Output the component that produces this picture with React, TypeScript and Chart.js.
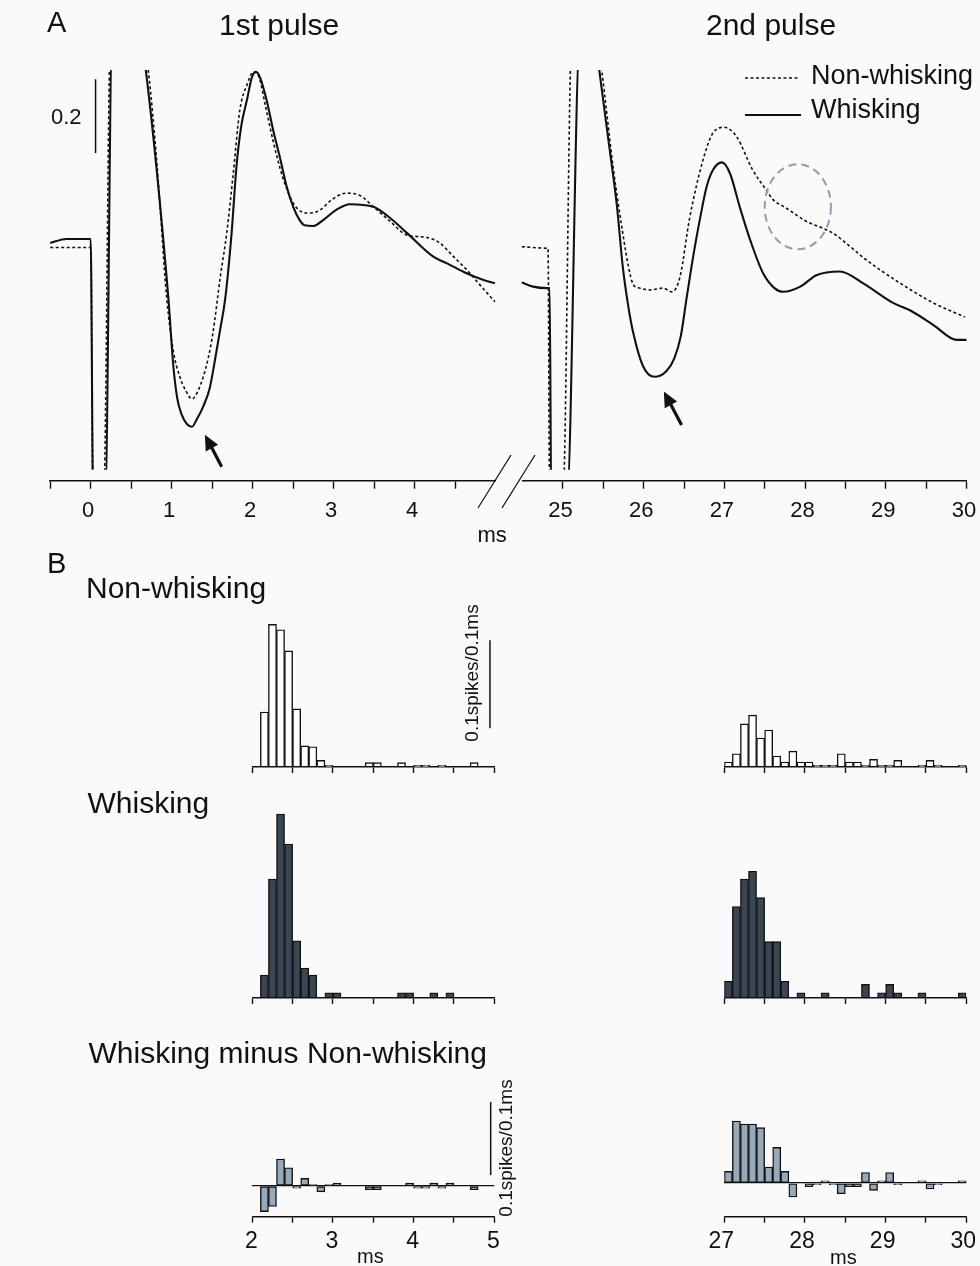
import React, { useEffect, useRef } from 'react';
import { Chart, registerables } from 'chart.js';

Chart.register(...registerables);

const FONT = '"Liberation Sans", Arial, Helvetica, sans-serif';
const INK = '#111111';
const BG = '#fafafa';

// ---------- Panel A: averaged traces (time in ms, amplitude in scale units) ----------
const pulse1WhiskT = [-0.5, -0.3, -0.1, 0.0, 0.03, 0.18, 0.265, 0.62, 0.68, 0.81, 0.96, 1.02, 1.07, 1.12, 1.185, 1.25, 1.31, 1.39, 1.47, 1.53, 1.6, 1.66, 1.74, 1.8, 1.86, 1.93, 1.99, 2.04, 2.09, 2.17, 2.25, 2.34, 2.42, 2.5, 2.58, 2.64, 2.75, 2.87, 3.04, 3.2, 3.49, 3.7, 3.9, 4.23, 4.4, 4.64, 4.85, 4.99];
const pulse1WhiskV = [-0.008, 0.003, 0.003, 0.003, -0.7, -0.7, 0.55, 0.55, 0.46, 0.2, -0.16, -0.34, -0.43, -0.47, -0.497, -0.505, -0.485, -0.45, -0.4, -0.33, -0.24, -0.16, 0.02, 0.2, 0.31, 0.38, 0.44, 0.455, 0.44, 0.38, 0.3, 0.22, 0.144, 0.09, 0.054, 0.04, 0.038, 0.054, 0.083, 0.097, 0.09, 0.059, 0.02, -0.045, -0.063, -0.09, -0.108, -0.117];

const pulse1NonWhiskT = [-0.5, -0.3, -0.1, 0.0, 0.03, 0.16, 0.245, 0.64, 0.71, 0.82, 0.94, 1.02, 1.1, 1.18, 1.25, 1.32, 1.39, 1.45, 1.51, 1.6, 1.68, 1.76, 1.84, 1.93, 2.01, 2.08, 2.16, 2.25, 2.37, 2.5, 2.59, 2.67, 2.75, 2.83, 2.98, 3.16, 3.33, 3.49, 3.7, 3.9, 4.15, 4.31, 4.48, 4.64, 4.82, 4.99];
const pulse1NonWhiskV = [-0.02, -0.02, -0.02, -0.02, -0.7, -0.7, 0.55, 0.55, 0.46, 0.2, -0.16, -0.3, -0.37, -0.41, -0.43, -0.41, -0.37, -0.32, -0.25, -0.1, 0.02, 0.18, 0.35, 0.42, 0.455, 0.44, 0.36, 0.27, 0.17, 0.1, 0.078, 0.073, 0.074, 0.081, 0.11, 0.127, 0.12, 0.09, 0.05, 0.014, 0.007, -0.008, -0.045, -0.08, -0.125, -0.167];

const pulse2WhiskT = [24.49, 24.63, 24.8, 24.835, 24.855, 25.05, 25.21, 25.4, 25.45, 25.58, 25.67, 25.74, 25.81, 25.87, 25.99, 26.13, 26.28, 26.38, 26.46, 26.53, 26.62, 26.7, 26.78, 26.86, 26.97, 27.07, 27.19, 27.32, 27.48, 27.62, 27.73, 27.94, 28.14, 28.43, 28.72, 29.09, 29.3, 29.59, 29.88, 30.0];
const pulse2WhiskV = [-0.115, -0.126, -0.13, -0.13, -0.7, -0.7, 0.55, 0.55, 0.46, 0.243, 0.09, -0.07, -0.18, -0.25, -0.34, -0.37, -0.355, -0.32, -0.26, -0.16, -0.036, 0.06, 0.144, 0.19, 0.21, 0.18, 0.09, 0.0, -0.09, -0.13, -0.14, -0.126, -0.095, -0.085, -0.117, -0.17, -0.19, -0.23, -0.27, -0.27];

const pulse2NonWhiskT = [24.49, 24.8, 24.815, 24.835, 25.0, 25.11, 25.42, 25.48, 25.62, 25.74, 25.81, 25.87, 25.95, 26.08, 26.24, 26.35, 26.45, 26.57, 26.74, 26.86, 27.0, 27.15, 27.35, 27.52, 27.6, 27.77, 28.02, 28.22, 28.35, 28.56, 28.76, 29.18, 29.59, 29.98];
const pulse2NonWhiskV = [-0.018, -0.022, -0.022, -0.7, -0.7, 0.55, 0.55, 0.46, 0.2, 0.02, -0.07, -0.12, -0.13, -0.135, -0.13, -0.14, -0.1, 0.06, 0.22, 0.29, 0.305, 0.28, 0.19, 0.135, 0.11, 0.086, 0.05, 0.032, 0.018, -0.018, -0.054, -0.117, -0.17, -0.208];

const pulse1TickLabels = [0, 1, 2, 3, 4];
const pulse2TickLabels = [25, 26, 27, 28, 29, 30];

// ---------- Panel B: PSTH bins (0.1 ms), spikes / 0.1 ms ----------
const binsFirst = [2.05, 2.15, 2.25, 2.35, 2.45, 2.55, 2.65, 2.75, 2.85, 2.95, 3.05, 3.15, 3.25, 3.35, 3.45, 3.55, 3.65, 3.75, 3.85, 3.95, 4.05, 4.15, 4.25, 4.35, 4.45, 4.55, 4.65, 4.75, 4.85, 4.95];
const binsSecond = [27.05, 27.15, 27.25, 27.35, 27.45, 27.55, 27.65, 27.75, 27.85, 27.95, 28.05, 28.15, 28.25, 28.35, 28.45, 28.55, 28.65, 28.75, 28.85, 28.95, 29.05, 29.15, 29.25, 29.35, 29.45, 29.55, 29.65, 29.75, 29.85, 29.95];

const nonWhiskFirst = [0, 0.0625, 0.162, 0.156, 0.132, 0.066, 0.024, 0.023, 0.0076, 0.002, 0, 0, 0, 0, 0.005, 0.005, 0, 0, 0.005, 0, 0.002, 0.002, 0, 0.002, 0, 0, 0, 0.005, 0, 0];
const nonWhiskSecond = [0.0057, 0.015, 0.049, 0.059, 0.033, 0.042, 0.0125, 0.0057, 0.018, 0.0057, 0.0057, 0.002, 0.002, 0.002, 0.015, 0.0057, 0.0057, 0.002, 0.0087, 0.002, 0.002, 0.0076, 0, 0, 0.002, 0.0076, 0.002, 0, 0, 0.002];
const whiskFirst = [0, 0.026, 0.135, 0.209, 0.175, 0.065, 0.034, 0.026, 0, 0.006, 0.006, 0, 0, 0, 0, 0, 0, 0, 0.006, 0.006, 0, 0, 0.006, 0, 0.006, 0, 0, 0, 0, 0];
const whiskSecond = [0.019, 0.104, 0.135, 0.144, 0.114, 0.064, 0.064, 0.019, 0, 0.006, 0, 0, 0.006, 0, 0, 0, 0, 0.0155, 0, 0.006, 0.0155, 0.006, 0, 0, 0.006, 0, 0, 0, 0, 0.006];
const diffFirst = [0, -0.035, -0.028, 0.037, 0.025, -0.003, 0.0105, 0.002, -0.008, 0.002, 0.004, 0, 0, 0, -0.005, -0.005, 0, 0, 0, 0.004, -0.003, -0.003, 0.004, -0.003, 0.004, 0, 0, -0.005, 0, 0];
const diffSecond = [0.016, 0.085, 0.081, 0.081, 0.076, 0.022, 0.049, 0.016, -0.019, 0, -0.005, -0.002, 0.003, -0.002, -0.0145, -0.005, -0.005, 0.0145, -0.01, 0.003, 0.0145, -0.002, 0, 0, 0.003, -0.008, -0.002, 0, 0, 0.003];

const histFirstTickLabels = [2, 3, 4, 5];
const histSecondTickLabels = [27, 28, 29, 30];

// ---------- helpers ----------
type Rect = { x: number; y: number; w: number; h: number };
type Area = { l: number; t: number; r: number; b: number };

const padFor = (c: Rect, a: Area, axisH: number) => ({
  left: a.l - c.x,
  top: a.t - c.y,
  right: c.x + c.w - a.r,
  bottom: c.y + c.h - a.b - axisH,
});

const near = (a: number, b: number) => Math.abs(a - b) < 1e-6;

function xAxis(min: number, max: number, labels: number[], o: any) {
  const hide: number[] = o.hide || [];
  return {
    type: 'linear',
    min,
    max,
    offset: false,
    afterFit: (s: any) => {
      s.height = o.axisH;
    },
    ticks: {
      stepSize: 0.5,
      autoSkip: false,
      maxRotation: 0,
      minRotation: 0,
      padding: o.pad,
      labelOffset: o.labelOffset,
      color: INK,
      font: { family: FONT, size: o.font },
      callback: (v: any) => {
        const n = Number(v);
        return labels.some((l) => near(l, n)) ? String(Math.round(n)) : '';
      },
    },
    grid: {
      display: true,
      drawOnChartArea: false,
      drawTicks: true,
      offset: false,
      tickLength: o.tickLen,
      tickWidth: 1.4,
      tickColor: (ctx: any) =>
        ctx.tick && hide.some((h) => near(h, ctx.tick.value)) ? 'rgba(0,0,0,0)' : INK,
    },
    border: { display: true, color: INK, width: 1.5 },
  };
}

function drawArrow(ctx: CanvasRenderingContext2D, x0: number, y0: number, x1: number, y1: number) {
  const ang = Math.atan2(y1 - y0, x1 - x0);
  const hl = 15;
  const hw = 7;
  const c = Math.cos(ang);
  const s = Math.sin(ang);
  const bx = x1 - hl * c;
  const by = y1 - hl * s;
  ctx.save();
  ctx.strokeStyle = INK;
  ctx.fillStyle = INK;
  ctx.lineWidth = 3.2;
  ctx.beginPath();
  ctx.moveTo(x0, y0);
  ctx.lineTo(bx + 2 * c, by + 2 * s);
  ctx.stroke();
  ctx.beginPath();
  ctx.moveTo(x1, y1);
  ctx.lineTo(bx + hw * s, by - hw * c);
  ctx.lineTo(bx - hw * s, by + hw * c);
  ctx.closePath();
  ctx.fill();
  ctx.restore();
}

function vBar(chart: any, xv: number, y0: number, y1: number) {
  const { ctx, scales } = chart;
  const px = scales.x.getPixelForValue(xv);
  ctx.save();
  ctx.strokeStyle = INK;
  ctx.lineWidth = 1.5;
  ctx.beginPath();
  ctx.moveTo(px, scales.y.getPixelForValue(y0));
  ctx.lineTo(px, scales.y.getPixelForValue(y1));
  ctx.stroke();
  ctx.restore();
}

const toPts = (t: number[], v: number[]) => t.map((x, i) => ({ x, y: v[i] }));

const TRACE_YMIN = -0.651;
const TRACE_YMAX = 0.46;

function traceConfig(rect: Rect, area: Area, xmin: number, xmax: number, labels: number[], hide: number[], dashed: any[], solid: any[], overlay: (c: any) => void) {
  const clip = { left: 2, top: 0, right: 2, bottom: -11 };
  return {
    type: 'line',
    data: {
      datasets: [
        {
          label: 'Non-whisking',
          data: dashed,
          borderColor: INK,
          borderWidth: 1.6,
          borderDash: [3, 2.5],
          pointRadius: 0,
          fill: false,
          cubicInterpolationMode: 'monotone',
          clip,
        },
        {
          label: 'Whisking',
          data: solid,
          borderColor: INK,
          borderWidth: 2.1,
          pointRadius: 0,
          fill: false,
          cubicInterpolationMode: 'monotone',
          clip,
        },
      ],
    },
    options: {
      animation: false,
      responsive: false,
      maintainAspectRatio: false,
      events: [],
      layout: { padding: padFor(rect, area, 50) },
      plugins: { legend: { display: false }, tooltip: { enabled: false }, title: { display: false } },
      scales: {
        x: xAxis(xmin, xmax, labels, { axisH: 50, tickLen: 8, pad: 9, font: 22, labelOffset: -2.5, hide }),
        y: { display: false, min: TRACE_YMIN, max: TRACE_YMAX },
      },
    },
    plugins: [{ id: 'overlay', afterDatasetsDraw: overlay }],
  };
}

function histConfig(rect: Rect, area: Area, xmin: number, xmax: number, labels: number[], yMin: number, yMax: number, centers: number[], values: number[], fill: string, o: any) {
  const yScale = o.zeroLine
    ? {
        display: true,
        min: yMin,
        max: yMax,
        afterFit: (s: any) => {
          s.width = 0;
        },
        ticks: { display: false, stepSize: 0.01 },
        border: { display: false },
        grid: {
          drawTicks: false,
          lineWidth: 1.3,
          color: (c: any) => (c.tick && Math.abs(c.tick.value) < 1e-9 ? INK : 'rgba(0,0,0,0)'),
        },
      }
    : { display: false, min: yMin, max: yMax };
  return {
    type: 'bar',
    data: {
      datasets: [
        {
          data: centers.map((c, i) => ({ x: c, y: values[i] === 0 ? null : values[i] })),
          backgroundColor: fill,
          borderColor: INK,
          borderWidth: 1.4,
          borderSkipped: false,
          barPercentage: 1,
          categoryPercentage: 1,
          grouped: false,
        },
      ],
    },
    options: {
      animation: false,
      responsive: false,
      maintainAspectRatio: false,
      events: [],
      layout: { padding: padFor(rect, area, o.axisH) },
      plugins: { legend: { display: false }, tooltip: { enabled: false } },
      scales: {
        x: xAxis(xmin, xmax, labels, { axisH: o.axisH, tickLen: 6, pad: 5, font: 23, labelOffset: o.labelOffset || 0 }),
        y: yScale,
      },
    },
    plugins: [
      {
        id: 'scalebar',
        afterDatasetsDraw: (chart: any) => {
          if (o.scaleBar) vBar(chart, o.scaleBar.x, o.scaleBar.y0, o.scaleBar.y1);
        },
      },
    ],
  };
}

function ChartCanvas({ rect, build }: { rect: Rect; build: () => any }) {
  const ref = useRef<HTMLCanvasElement>(null);
  useEffect(() => {
    const chart = new Chart(ref.current as HTMLCanvasElement, build());
    return () => chart.destroy();
  }, []);
  return (
    <canvas
      ref={ref}
      width={rect.w}
      height={rect.h}
      style={{ position: 'absolute', left: rect.x, top: rect.y, width: rect.w, height: rect.h }}
    />
  );
}

function Txt({ x, y, size, children, rotate }: any) {
  const style: any = {
    position: 'absolute',
    left: x,
    top: y,
    fontSize: size,
    lineHeight: 1,
    whiteSpace: 'nowrap',
    fontFamily: FONT,
    color: INK,
  };
  if (rotate) style.transform = 'translate(-50%, -50%) rotate(-90deg)';
  return <div style={style}>{children}</div>;
}

// ---------- layout ----------
const rectA1: Rect = { x: 20, y: 40, w: 500, h: 520 };
const areaA1: Area = { l: 50.2, t: 70, r: 495.7, b: 480.7 };
const rectA2: Rect = { x: 500, y: 40, w: 520, h: 520 };
const areaA2: Area = { l: 522.6, t: 70, r: 966.5, b: 480.7 };

const rectB1L: Rect = { x: 220, y: 590, w: 310, h: 200 };
const areaB1L: Area = { l: 252.3, t: 608.6, r: 494.3, b: 767 };
const rectB1R: Rect = { x: 690, y: 590, w: 330, h: 200 };
const areaB1R: Area = { l: 724.3, t: 608.6, r: 966.3, b: 767 };

const rectB2L: Rect = { x: 220, y: 795, w: 310, h: 220 };
const areaB2L: Area = { l: 252.3, t: 808.8, r: 494.3, b: 998 };
const rectB2R: Rect = { x: 690, y: 795, w: 330, h: 220 };
const areaB2R: Area = { l: 724.3, t: 808.8, r: 966.3, b: 998 };

const rectB3L: Rect = { x: 220, y: 1085, w: 310, h: 181 };
const areaB3L: Area = { l: 252.3, t: 1098.4, r: 494.3, b: 1216.7 };
const rectB3R: Rect = { x: 690, y: 1085, w: 330, h: 181 };
const areaB3R: Area = { l: 724.3, t: 1095.5, r: 966.3, b: 1216.7 };

export default function App() {
  return (
    <div
      style={{
        position: 'absolute',
        left: 0,
        top: 0,
        width: 980,
        height: 1266,
        background: BG,
        overflow: 'hidden',
        fontFamily: FONT,
      }}
    >
      <ChartCanvas
        rect={rectA1}
        build={() =>
          traceConfig(rectA1, areaA1, -0.5, 5, pulse1TickLabels, [5], toPts(pulse1NonWhiskT, pulse1NonWhiskV), toPts(pulse1WhiskT, pulse1WhiskV), (chart: any) => {
            const { ctx, scales } = chart;
            vBar(chart, 0.06, 0.235, 0.435);
            drawArrow(ctx, scales.x.getPixelForValue(1.617), scales.y.getPixelForValue(-0.613), scales.x.getPixelForValue(1.41), scales.y.getPixelForValue(-0.527));
          })
        }
      />
      <ChartCanvas
        rect={rectA2}
        build={() =>
          traceConfig(rectA2, areaA2, 24.5, 30, pulse2TickLabels, [24.5], toPts(pulse2NonWhiskT, pulse2NonWhiskV), toPts(pulse2WhiskT, pulse2WhiskV), (chart: any) => {
            const { ctx, scales } = chart;
            const cx = scales.x.getPixelForValue(27.91);
            const cy = scales.y.getPixelForValue(0.09);
            const rx = Math.abs(scales.x.getPixelForValue(27.91 + 0.41) - cx);
            const ry = Math.abs(scales.y.getPixelForValue(0.09 + 0.115) - cy);
            ctx.save();
            ctx.strokeStyle = '#8d9fb1';
            ctx.lineWidth = 2;
            ctx.setLineDash([8, 5]);
            ctx.beginPath();
            ctx.ellipse(cx, cy, rx, ry, 0, 0, Math.PI * 2);
            ctx.stroke();
            ctx.restore();
            drawArrow(ctx, scales.x.getPixelForValue(26.47), scales.y.getPixelForValue(-0.5), scales.x.getPixelForValue(26.25), scales.y.getPixelForValue(-0.41));
          })
        }
      />

      <ChartCanvas
        rect={rectB1L}
        build={() => histConfig(rectB1L, areaB1L, 2, 5, [], 0, 0.18, binsFirst, nonWhiskFirst, '#ffffff', { axisH: 12, scaleBar: { x: 4.946, y0: 0.044, y1: 0.144 } })}
      />
      <ChartCanvas
        rect={rectB1R}
        build={() => histConfig(rectB1R, areaB1R, 27, 30, [], 0, 0.18, binsSecond, nonWhiskSecond, '#ffffff', { axisH: 12 })}
      />
      <ChartCanvas
        rect={rectB2L}
        build={() => histConfig(rectB2L, areaB2L, 2, 5, [], 0, 0.215, binsFirst, whiskFirst, '#3b4655', { axisH: 12 })}
      />
      <ChartCanvas
        rect={rectB2R}
        build={() => histConfig(rectB2R, areaB2R, 27, 30, [], 0, 0.215, binsSecond, whiskSecond, '#3b4655', { axisH: 12 })}
      />
      <ChartCanvas
        rect={rectB3L}
        build={() =>
          histConfig(rectB3L, areaB3L, 2, 5, histFirstTickLabels, -0.042, 0.12, binsFirst, diffFirst, '#98aab9', {
            axisH: 40,
            zeroLine: true,
            labelOffset: -1,
            scaleBar: { x: 4.955, y0: 0.015, y1: 0.115 },
          })
        }
      />
      <ChartCanvas
        rect={rectB3R}
        build={() =>
          histConfig(rectB3R, areaB3R, 27, 30, histSecondTickLabels, -0.046, 0.12, binsSecond, diffSecond, '#98aab9', {
            axisH: 40,
            zeroLine: true,
            labelOffset: -3,
          })
        }
      />

      <svg width={980} height={1266} style={{ position: 'absolute', left: 0, top: 0, pointerEvents: 'none' }}>
        <line x1={745} y1={78} x2={798} y2={78} stroke={INK} strokeWidth={1.6} strokeDasharray="3 2.5" />
        <line x1={745} y1={115} x2={801} y2={115} stroke={INK} strokeWidth={2} />
        <line x1={478} y1={508} x2={511} y2={455} stroke={INK} strokeWidth={1.2} />
        <line x1={502} y1={508} x2={535} y2={455} stroke={INK} strokeWidth={1.2} />
      </svg>

      <Txt x={47} y={7.5} size={29}>A</Txt>
      <Txt x={219} y={9.6} size={30}>1st pulse</Txt>
      <Txt x={706} y={9.6} size={30}>2nd pulse</Txt>
      <Txt x={811} y={62} size={27}>Non-whisking</Txt>
      <Txt x={811} y={96} size={27}>Whisking</Txt>
      <Txt x={51} y={106.4} size={22}>0.2</Txt>
      <Txt x={477.5} y={524.4} size={22}>ms</Txt>

      <Txt x={47} y={548.5} size={29}>B</Txt>
      <Txt x={86} y={572.6} size={30}>Non-whisking</Txt>
      <Txt x={87.5} y={787.6} size={30}>Whisking</Txt>
      <Txt x={88.5} y={1037.6} size={30}>Whisking minus Non-whisking</Txt>
      <Txt x={470.5} y={673} size={19} rotate>0.1spikes/0.1ms</Txt>
      <Txt x={505} y={1148} size={19} rotate>0.1spikes/0.1ms</Txt>
      <Txt x={357} y={1246} size={20}>ms</Txt>
      <Txt x={830} y={1247} size={20}>ms</Txt>
    </div>
  );
}
